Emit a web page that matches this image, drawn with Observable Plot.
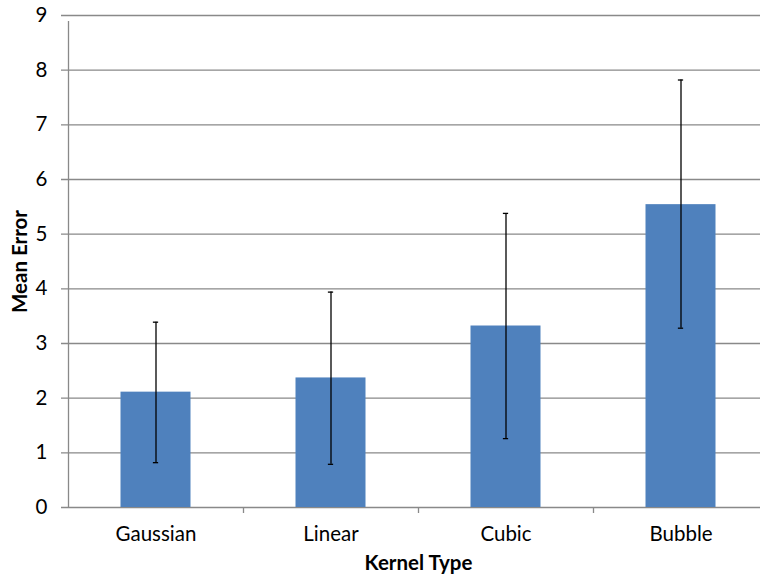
<!DOCTYPE html>
<html>
<head>
<meta charset="utf-8">
<script src="https://cdn.jsdelivr.net/npm/d3@7"></script>
<script src="https://cdn.jsdelivr.net/npm/@observablehq/plot@0.6"></script>
<style>
  html, body { margin: 0; padding: 0; background: #fff; overflow: hidden; }
  #chart { width: 760px; height: 579px; overflow: hidden; }
  #chart svg { display: block; max-width: none !important; }
</style>
</head>
<body>
<div id="chart"></div>
<script>
const categories = ["Gaussian", "Linear", "Cubic", "Bubble"];
const meanError = [2.11, 2.37, 3.32, 5.54];
const errLow = [0.82, 0.79, 1.26, 3.28];
const errHigh = [3.39, 3.94, 5.38, 7.82];
const yTicks = [0, 1, 2, 3, 4, 5, 6, 7, 8, 9];

const data = categories.map((c, i) => ({
  i, category: c, value: meanError[i], low: errLow[i], high: errHigh[i]
}));

const grid = "#898989";
const font = "Lato, 'Open Sans', sans-serif";

const chart = Plot.plot({
  width: 769,
  height: 579,
  marginLeft: 68,
  marginRight: 1,
  marginTop: 15,
  marginBottom: 72,
  style: { fontFamily: font, fontSize: "20.5px", color: "#000", background: "#fff", maxWidth: "none" },
  x: { type: "linear", domain: [0, categories.length] },
  y: { domain: [0, 9] },
  marks: [
    Plot.ruleY(yTicks, { y: d => d, stroke: grid, strokeWidth: 1.3, insetLeft: -7 }),
    Plot.ruleX([0], { y1: 0, y2: 9, stroke: grid, strokeWidth: 1.3, insetBottom: -6 }),
    Plot.ruleX(d3.range(1, categories.length), { x: d => d, y1: 0, y2: 0, stroke: grid, strokeWidth: 1.3, insetBottom: -6 }),
    Plot.rectY(data, { x1: d => d.i + 0.3, x2: d => d.i + 0.7, y1: 0, y2: "value", fill: "#4F81BD" }),
    Plot.ruleX(data, { x: d => d.i + 0.5, y1: "low", y2: "high", stroke: "#000", strokeWidth: 1.3 }),
    Plot.ruleY(data, { y: "low", x1: d => d.i + 0.485, x2: d => d.i + 0.515, stroke: "#000", strokeWidth: 1.3 }),
    Plot.ruleY(data, { y: "high", x1: d => d.i + 0.485, x2: d => d.i + 0.515, stroke: "#000", strokeWidth: 1.3 }),
    Plot.axisY({ ticks: yTicks, tickSize: 0, tickPadding: 21, label: null, tickFormat: d => String(d) }),
    Plot.axisX({ ticks: categories.map((c, i) => i + 0.5), tickSize: 0, tickPadding: 19, label: null,
                 tickFormat: d => categories[Math.floor(d)] }),
    Plot.text(["Mean Error"], { frameAnchor: "left", rotate: -90, dx: -48, text: d => d,
                                textAnchor: "middle", fontWeight: "bold", fontSize: 20.5 }),
    Plot.text(["Kernel Type"], { frameAnchor: "bottom", dy: 62, text: d => d,
                                 textAnchor: "middle", fontWeight: "bold", fontSize: 20.5 })
  ]
});
document.getElementById("chart").appendChild(chart);
</script>
</body>
</html>
